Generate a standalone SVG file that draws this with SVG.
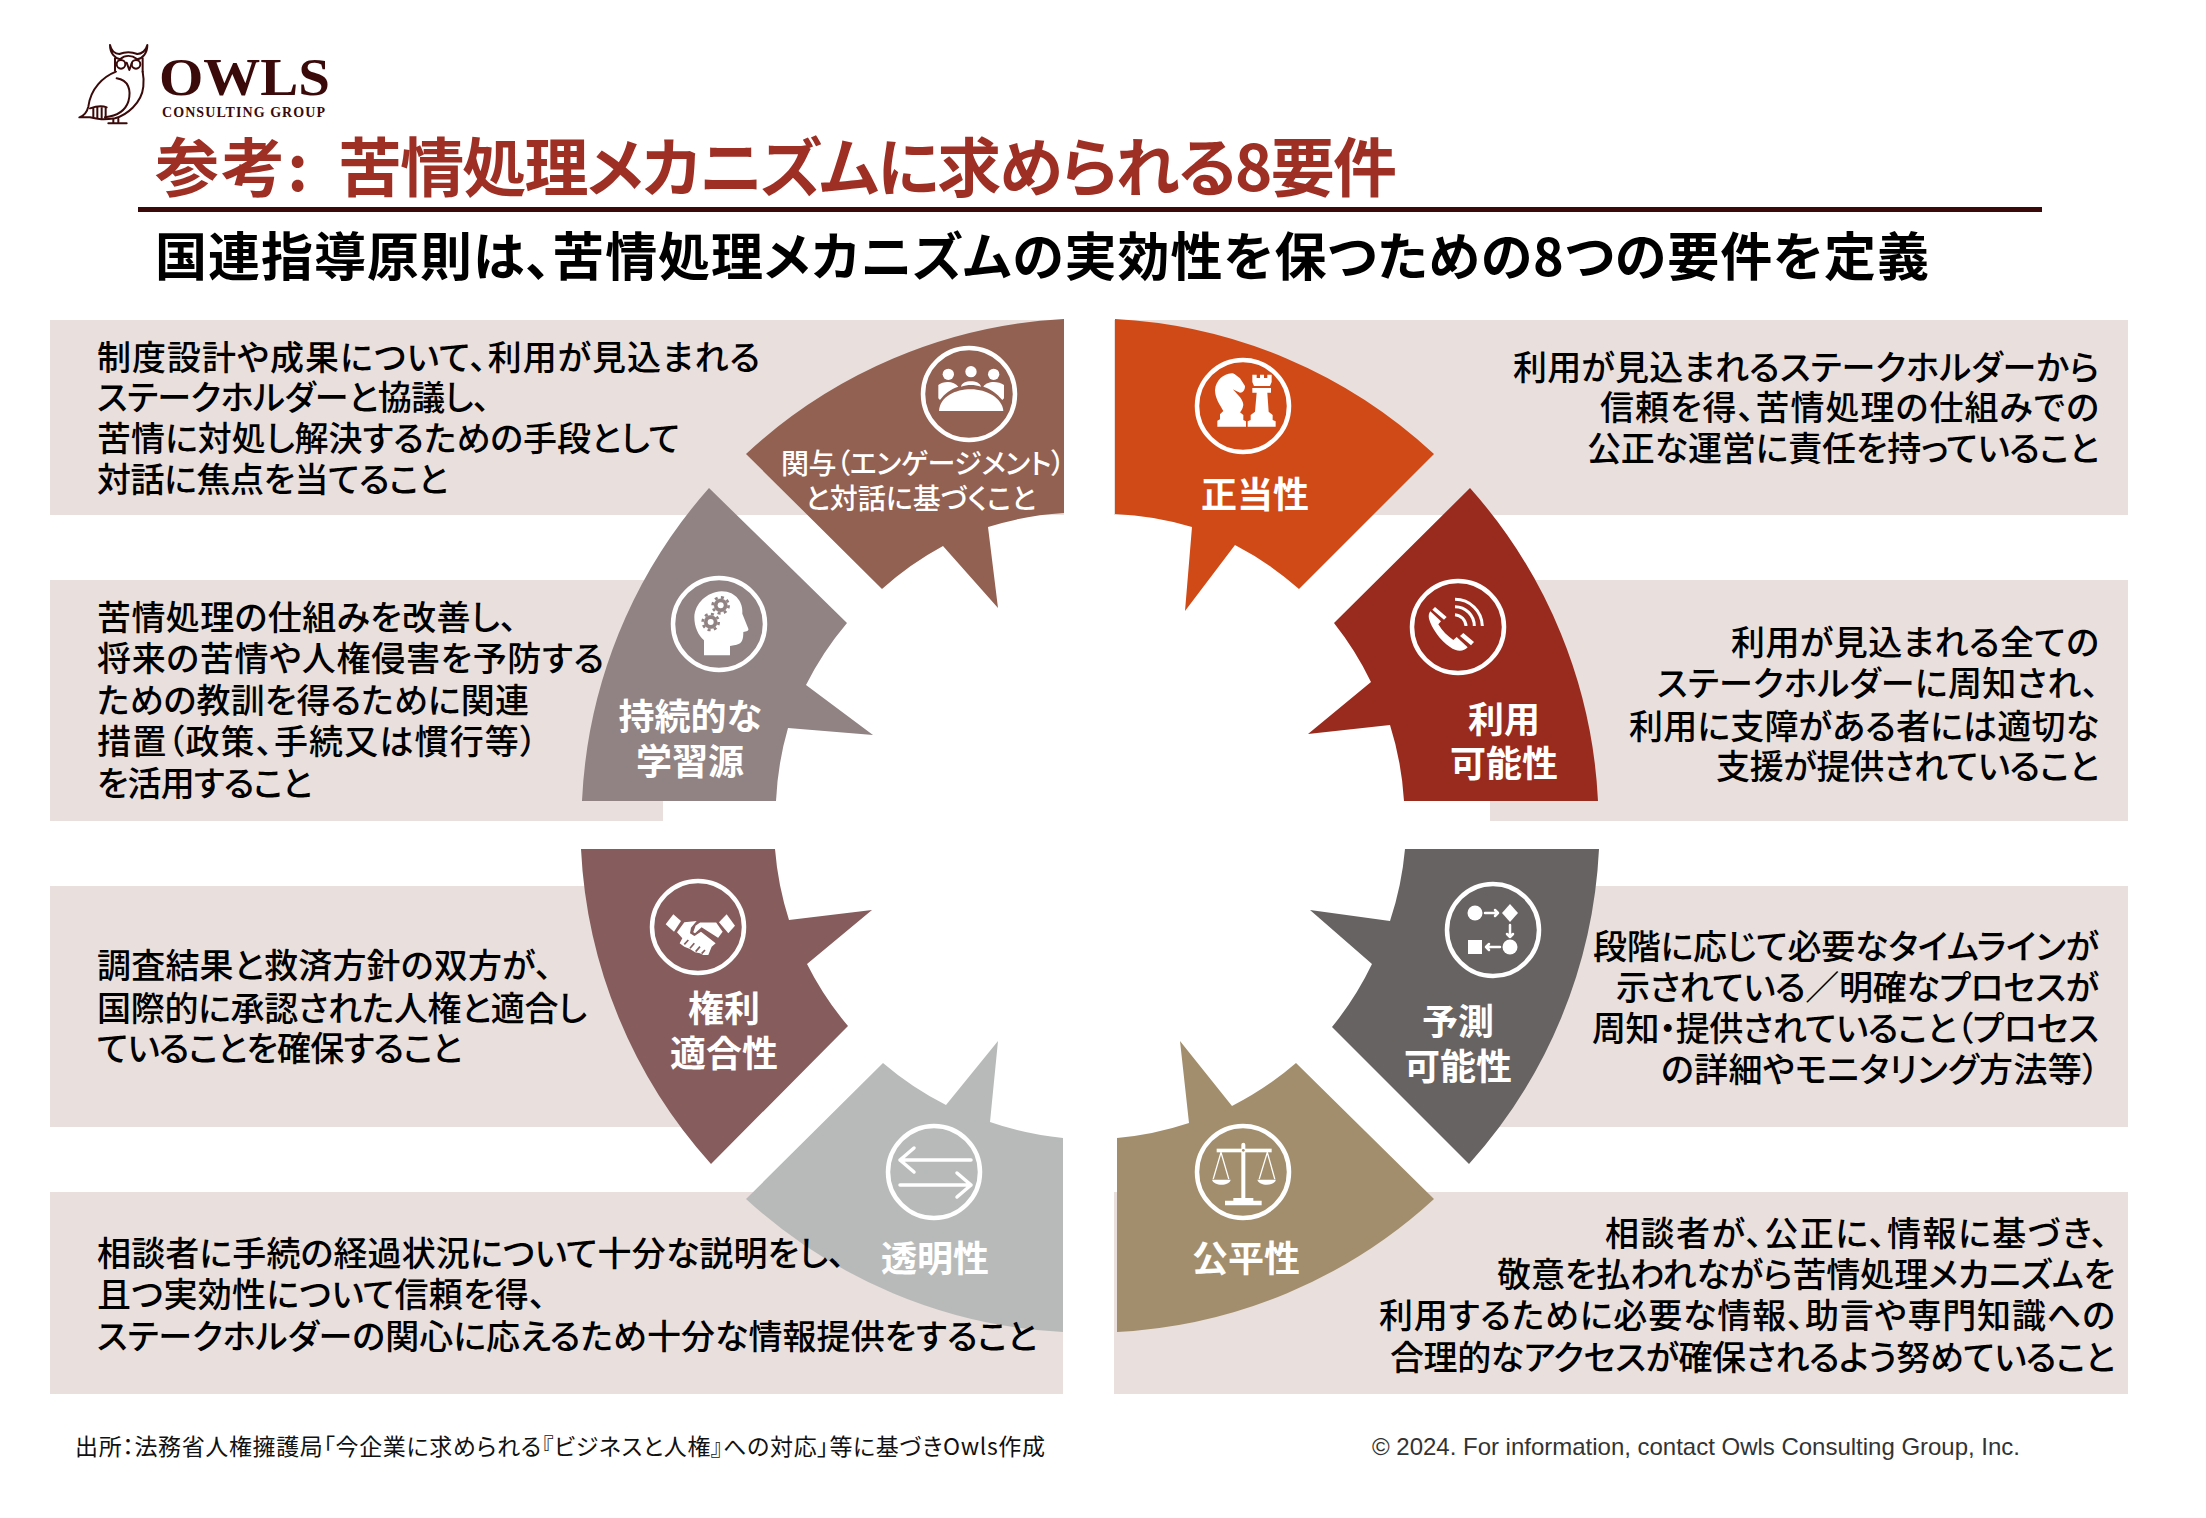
<svg xmlns="http://www.w3.org/2000/svg" width="2206" height="1518" viewBox="0 0 2206 1518">
<style>
text{font-family:"Noto Sans CJK JP","Noto Sans",sans-serif;font-feature-settings:"palt"}
.b{font-size:34px;font-weight:500;fill:#000}
.l{font-size:36px;font-weight:700;fill:#fff;text-anchor:middle}
.m{font-size:28px;font-weight:500;fill:#fff}
.p{fill:#E9DFDC}
.c{fill:none;stroke:#fff;stroke-width:4.5}
.w{fill:#fff}
.s{fill:none;stroke:#fff;stroke-linecap:round;stroke-linejoin:round}
</style>
<rect width="2206" height="1518" fill="#fff"/>
<g id="logo" transform="translate(60 30) scale(.3333)" fill="none" stroke="#3A0A0A" stroke-width="6" stroke-linejoin="round" stroke-linecap="round">
<path d="M150 45C150 70 165 85 180 88C195 75 215 75 232 88C248 85 262 70 262 45C258 62 245 72 232 72C215 65 195 65 178 72C165 72 153 62 150 45Z"/>
<path d="M165 85V122M248 85V125"/>
<circle cx="183" cy="103" r="13"/><circle cx="228" cy="103" r="13"/>
<path d="M200 98L208 120L216 98"/>
<path d="M168 125C130 140 92 175 85 230C80 250 70 258 58 262L90 262C115 268 130 270 165 265C200 255 245 220 250 170C252 150 250 135 248 125"/>
<path d="M170 145C205 150 215 180 205 215C195 245 170 258 135 262"/>
<path d="M90 235C110 228 130 228 140 232M100 233V262M112 231V264M125 231V265M137 232V264"/>
<path d="M145 280H200M160 268V280M175 266V280"/>
</g>
<g id="logotext">
<text x="159" y="95" textLength="171" lengthAdjust="spacingAndGlyphs" style="font-family:'Liberation Serif',serif;font-size:52px;font-weight:700;fill:#3A0A0A">OWLS</text>
<text x="162" y="117" textLength="163" style="font-family:'Liberation Serif',serif;font-size:14px;font-weight:700;fill:#3A0A0A">CONSULTING GROUP</text>
</g>
<g id="title">
<text x="155" y="191" textLength="153" style="font-size:64px;font-weight:700;fill:#9E2F24">参考:</text>
<text x="338" y="191" textLength="1059" style="font-size:64px;font-weight:700;fill:#9E2F24">苦情処理メカニズムに求められる8要件</text>
<rect x="138" y="207" width="1904" height="5" fill="#3A0A0A"/>
<text x="155" y="276" textLength="1774" style="font-size:52px;font-weight:700;fill:#000">国連指導原則は、苦情処理メカニズムの実効性を保つための8つの要件を定義</text>
</g>

<g id="n-engagement">
<rect class="p" x="50" y="320" width="1014" height="195"/>
<path fill="#936152" d="M1064 319A507 507 0 0 0 746 454L882 589A314 314 0 0 1 943 546L998 608L988 527A314 314 0 0 1 1064 513Z"/>
<circle class="c" cx="969" cy="394" r="46"/>
<g transform="translate(915 340) scale(.3333)"><circle class="w" cx="100" cy="103" r="17"/><circle class="w" cx="168" cy="95" r="17"/><circle class="w" cx="236" cy="103" r="17"/><path class="w" d="M70 135C85 122 118 122 130 140C105 148 90 160 75 180L70 175Z"/><path class="w" d="M138 140C140 118 195 118 198 140C178 133 158 133 138 140Z"/><path class="w" d="M205 140C215 122 250 122 267 135V175L262 180C245 160 230 148 205 140Z"/><path class="w" d="M72 213C75 170 120 148 168 148C215 148 262 175 265 213Z"/></g>
<text class="m" x="781" y="474" textLength="284">関与（エンゲージメント）</text>
<text class="m" x="805" y="509" textLength="231">と対話に基づくこと</text>
<text class="b" x="97" y="370" textLength="663">制度設計や成果について、利用が見込まれる</text>
<text class="b" x="97" y="410" textLength="393">ステークホルダーと協議し、</text>
<text class="b" x="97" y="451" textLength="583">苦情に対処し解決するための手段として</text>
<text class="b" x="97" y="492" textLength="351">対話に焦点を当てること</text>
</g>

<g id="n-learning">
<rect class="p" x="50" y="580" width="613" height="241"/>
<path fill="#918383" d="M709 488L847 623A314 314 0 0 0 806 685L873 735L788 728A314 314 0 0 0 776 801H582A507 507 0 0 1 709 488Z"/>
<circle class="c" cx="719" cy="624" r="46"/>
<g transform="translate(665 572) scale(.3333)"><path class="w" d="M117 250V205C100 190 88 165 88 135C90 95 125 60 170 58C215 58 235 95 232 125L250 170C252 176 245 178 235 180C235 200 232 215 215 218L195 222V250Z"/><g fill="#918383" stroke="#918383"><circle cx="167" cy="100" r="20"/><circle cx="137" cy="150" r="20"/><circle cx="167" cy="100" r="24" fill="none" stroke-width="8" stroke-dasharray="9 9.85"/><circle cx="137" cy="150" r="24" fill="none" stroke-width="8" stroke-dasharray="9 9.85"/></g><circle class="w" cx="167" cy="100" r="9"/><circle class="w" cx="137" cy="150" r="9"/></g>
<text class="l" x="690" y="730">持続的な</text><text class="l" x="690" y="775">学習源</text>
<text class="b" x="97" y="630" textLength="420">苦情処理の仕組みを改善し、</text>
<text class="b" x="97" y="671" textLength="507">将来の苦情や人権侵害を予防する</text>
<text class="b" x="97" y="713" textLength="432">ための教訓を得るために関連</text>
<text class="b" x="97" y="754" textLength="440">措置（政策、手続又は慣行等）</text>
<text class="b" x="97" y="796" textLength="215">を活用すること</text>
</g>

<g id="n-rights">
<rect class="p" x="50" y="886" width="660" height="241"/>
<path fill="#865C5C" d="M581 849H775A314 314 0 0 0 789 920L872 910L807 964A314 314 0 0 0 848 1026L711 1164A507 507 0 0 1 581 849Z"/>
<circle class="c" cx="698" cy="927" r="46"/>
<g transform="translate(645 875) scale(.3333)"><path class="w" d="M62 148L85 118L108 138L87 170Z"/><path class="w" d="M222 142L245 118L270 152L250 175Z"/><path class="w" d="M96 172L118 142L155 138L138 158L135 175L148 183L168 170L212 205L200 215L190 240L175 240L165 235L150 232L135 222L118 215L104 205L112 190Z"/><path class="w" d="M150 150L165 140L215 140L236 170L220 192L170 160L150 178L142 172Z" stroke="#865C5C" stroke-width="5"/><path d="M130 195L118 208M148 205L135 220M165 215L152 230M180 225L170 236" stroke="#865C5C" stroke-width="5" fill="none"/></g>
<text class="l" x="724" y="1022">権利</text><text class="l" x="724" y="1067">適合性</text>
<text class="b" x="97" y="978" textLength="455">調査結果と救済方針の双方が、</text>
<text class="b" x="97" y="1021" textLength="490">国際的に承認された人権と適合し</text>
<text class="b" x="97" y="1061" textLength="365">ていることを確保すること</text>
</g>

<g id="n-transparency">
<rect class="p" x="50" y="1192" width="1013" height="202"/>
<path fill="#B8BABA" d="M1063 1138V1332A507 507 0 0 1 746 1199L883 1063A314 314 0 0 0 946 1105L998 1041L990 1122A314 314 0 0 0 1063 1138Z"/>
<circle class="c" cx="934" cy="1172" r="46"/>
<g transform="translate(934 1172)"><path class="s" stroke-width="3.5" d="M37 -12H-34M-34 -12L-20 -24M-34 -12L-20 0M-34 13H37M37 13L23 1M37 13L23 25"/></g>
<text class="l" x="935" y="1272">透明性</text>
<text class="b" x="97" y="1266" textLength="748">相談者に手続の経過状況について十分な説明をし、</text>
<text class="b" x="97" y="1307" textLength="449">且つ実効性について信頼を得、</text>
<text class="b" x="97" y="1349" textLength="940">ステークホルダーの関心に応えるため十分な情報提供をすること</text>
</g>

<g id="n-legitimacy">
<rect class="p" x="1114" y="320" width="1014" height="195"/>
<path fill="#D04A17" d="M1115 319A507 507 0 0 1 1434 454L1299 589A314 314 0 0 0 1235 545L1185 611L1192 527A314 314 0 0 0 1115 514Z"/>
<circle class="c" cx="1243" cy="406" r="46"/>
<g transform="translate(1190 350) scale(.3333)"><path class="w" d="M82 230V212L90 208V193L100 183C90 165 75 145 75 120C78 90 100 72 125 70C135 70 140 78 150 85L165 108C165 120 160 128 150 128L128 118C145 135 160 150 160 165C158 178 152 185 150 187L160 195V210L168 214V230Z"/><path class="w" d="M173 230V214L182 210V195L195 185L200 128H187V114H243V128H232L236 185L248 195V210L257 214V230Z"/><path class="w" d="M192 108L187 96V74H200V84H210V74H222V84H232V74H245V96L240 108Z"/></g>
<text class="l" x="1255" y="508">正当性</text>
<text class="b" x="1513" y="380" textLength="586">利用が見込まれるステークホルダーから</text>
<text class="b" x="1600" y="420" textLength="499">信頼を得、苦情処理の仕組みでの</text>
<text class="b" x="1587" y="461" textLength="512">公正な運営に責任を持っていること</text>
</g>

<g id="n-accessibility">
<rect class="p" x="1490" y="580" width="638" height="241"/>
<path fill="#992B1E" d="M1470 488A507 507 0 0 1 1598 801H1404A314 314 0 0 0 1390 725L1308 734L1371 682A314 314 0 0 0 1334 623Z"/>
<circle class="c" cx="1458" cy="627" r="46"/>
<g transform="translate(1405 572) scale(.3333)"><path class="w" d="M90 105L125 135L117 143L82 113Z"/><path class="w" d="M175 183L207 210L198 220L165 192Z"/><path class="w" d="M76 118L108 148L100 157C112 178 128 192 145 204L155 195L188 226C175 240 155 240 135 225C105 205 78 165 72 140C70 130 72 123 76 118Z"/><path class="s" style="stroke-linecap:butt" stroke-width="9" d="M150 128A36 36 0 0 1 183 162M150 104A58 58 0 0 1 208 162M150 82A82 82 0 0 1 232 162"/></g>
<text class="l" x="1504" y="733">利用</text><text class="l" x="1504" y="777">可能性</text>
<text class="b" x="1731" y="655" textLength="368">利用が見込まれる全ての</text>
<text class="b" x="1657" y="696" textLength="442">ステークホルダーに周知され、</text>
<text class="b" x="1629" y="739" textLength="470">利用に支障がある者には適切な</text>
<text class="b" x="1716" y="779" textLength="383">支援が提供されていること</text>
</g>

<g id="n-predictability">
<rect class="p" x="1480" y="886" width="648" height="241"/>
<path fill="#676362" d="M1405 849H1599A507 507 0 0 1 1469 1164L1332 1027A314 314 0 0 0 1372 964L1310 910L1390 921A314 314 0 0 0 1405 849Z"/>
<circle class="c" cx="1493" cy="930" r="46"/>
<g transform="translate(1493 930)"><circle class="w" cx="-18" cy="-17" r="7.5"/><path class="w" d="M17 -26L25 -17L17 -8L9 -17Z"/><circle class="w" cx="17" cy="17" r="7.5"/><rect class="w" x="-25" y="10" width="14" height="14"/><path class="s" stroke-width="2.5" d="M-8 -17H5M2 -20L5 -17L2 -14M17 -5V7M14 4L17 7L20 4M7 17H-7M-4 20L-7 17L-4 14"/></g>
<text class="l" x="1458" y="1035">予測</text><text class="l" x="1458" y="1080">可能性</text>
<text class="b" x="1593" y="959" textLength="506">段階に応じて必要なタイムラインが</text>
<text class="b" x="1616" y="1000" textLength="483">示されている／明確なプロセスが</text>
<text class="b" x="1592" y="1041" textLength="507">周知・提供されていること（プロセス</text>
<text class="b" x="1661" y="1082" textLength="438">の詳細やモニタリング方法等）</text>
</g>

<g id="n-equity">
<rect class="p" x="1114" y="1192" width="1014" height="202"/>
<path fill="#A28E6C" d="M1117 1138A314 314 0 0 0 1189 1123L1180 1041L1232 1106A314 314 0 0 0 1296 1063L1434 1199A507 507 0 0 1 1117 1332Z"/>
<circle class="c" cx="1243" cy="1172" r="46"/>
<g transform="translate(1190 1118) scale(.3333)"><path class="w" d="M154 240V80A6 6 0 0 1 166 80V240H190V248H215V262H105V248H130V240Z"/><rect class="w" x="80" y="92" width="165" height="11"/><circle cx="160" cy="97" r="4" fill="#A28E6C"/><path class="s" stroke-width="4" d="M93 103L70 182M93 103L116 182M232 103L208 182M232 103L254 182"/><path class="w" d="M66 185H122C118 205 72 205 66 185ZM202 185H258C252 205 208 205 202 185Z"/></g>
<text class="l" x="1246" y="1272">公平性</text>
<text class="b" x="1605" y="1246" textLength="503">相談者が、公正に、情報に基づき、</text>
<text class="b" x="1497" y="1287" textLength="618">敬意を払われながら苦情処理メカニズムを</text>
<text class="b" x="1379" y="1328" textLength="736">利用するために必要な情報、助言や専門知識への</text>
<text class="b" x="1390" y="1370" textLength="725">合理的なアクセスが確保されるよう努めていること</text>
</g>

<g id="footer">
<text x="75" y="1455" textLength="970" style="font-size:23px;font-weight:400;fill:#111">出所：法務省人権擁護局「今企業に求められる『ビジネスと人権』への対応」等に基づきOwls作成</text>
<text x="1372" y="1455" textLength="648" style="font-family:'Liberation Sans',sans-serif;font-size:24px;fill:#333">© 2024. For information, contact Owls Consulting Group, Inc.</text>
</g>
</svg>
